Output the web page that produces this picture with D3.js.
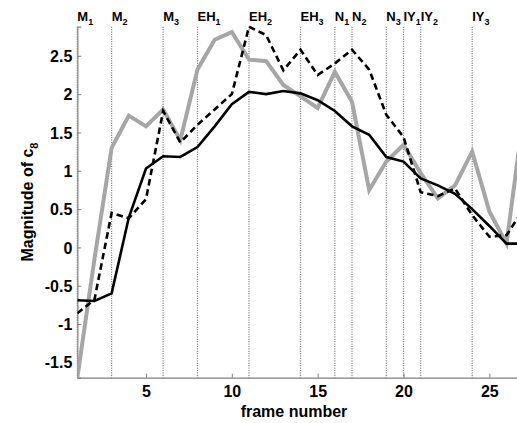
<!DOCTYPE html>
<html><head><meta charset="utf-8">
<script src="https://cdn.jsdelivr.net/npm/d3@7"></script>
<style>
body{margin:0;background:#fff;}
text{font-family:"Liberation Sans",Arial,sans-serif;font-weight:bold;}
</style></head>
<body><svg id="c" width="517" height="423"></svg>
<script>
const frames = d3.range(1, 28);
const grayVals = [-1.70, -0.15, 1.30, 1.72, 1.58, 1.80, 1.40, 2.32, 2.71, 2.81, 2.45, 2.43, 2.12, 1.97, 1.82, 2.29, 1.90, 0.75, 1.12, 1.34, 0.97, 0.64, 0.81, 1.25, 0.47, 0.05, 1.75];
const dashedVals = [-0.86, -0.68, 0.45, 0.38, 0.63, 1.78, 1.37, 1.60, 1.80, 2.00, 2.88, 2.77, 2.31, 2.58, 2.25, 2.40, 2.58, 2.32, 1.73, 1.44, 0.72, 0.67, 0.77, 0.42, 0.14, 0.16, 0.50];
const blackVals = [-0.69, -0.70, -0.60, 0.39, 1.03, 1.19, 1.18, 1.31, 1.58, 1.87, 2.03, 2.00, 2.04, 2.01, 1.92, 1.78, 1.58, 1.47, 1.18, 1.12, 0.90, 0.81, 0.70, 0.50, 0.28, 0.05, 0.05];
const markerNames = ["M", "M", "M", "EH", "EH", "EH", "N", "N", "N", "IY", "IY", "IY"];
const markerSubs = ["1", "2", "3", "1", "2", "3", "1", "2", "3", "1", "2", "3"];
const markerFrames = [1, 3, 6, 8, 11, 14, 16, 17, 19, 20, 21, 24];
const xTicks = [5, 10, 15, 20, 25];
const yTicks = [-1.5, -1, -0.5, 0, 0.5, 1, 1.5, 2, 2.5];

const svg = d3.select("#c");
const x = d3.scaleLinear().domain([1, 27]).range([77.3, 523.7]);
const y = d3.scaleLinear().domain([-1.7, 2.88]).range([377.7, 26.7]);

svg.append("clipPath").attr("id", "clip").append("rect")
  .attr("x", 77.3).attr("y", 0).attr("width", 517 - 77.3).attr("height", 378);

// vertical dotted marker lines
svg.append("g").selectAll("line").data(markerFrames).join("line")
  .attr("x1", d => x(d)).attr("x2", d => x(d))
  .attr("y1", y(2.88)).attr("y2", y(-1.7))
  .attr("stroke", "#8c8c8c").attr("stroke-width", 1.2)
  .attr("stroke-dasharray", "1.2,1.2");

// top labels
const lab = svg.append("g").selectAll("text").data(markerFrames).join("text")
  .attr("x", d => x(d)).attr("y", 20.5)
  .attr("font-size", 13).attr("fill", "#000");
lab.append("tspan").text((d, i) => markerNames[i]);
lab.append("tspan").attr("dy", 4.5).attr("font-size", 9).text((d, i) => markerSubs[i]);

// axes
const xAxis = svg.append("g").attr("transform", `translate(0,${y(-1.7)})`)
  .call(d3.axisBottom(x).tickValues(xTicks).tickSize(-4).tickPadding(8).tickFormat(d => String(d)));
const yAxis = svg.append("g").attr("transform", `translate(${x(1)},0)`)
  .call(d3.axisLeft(y).tickValues(yTicks).tickSize(-4).tickPadding(5).tickFormat(d => String(d)));
[xAxis, yAxis].forEach(a => {
  a.select(".domain").attr("stroke", "#808080").attr("stroke-width", 1.2);
  a.selectAll(".tick line").attr("stroke", "#808080");
  a.selectAll("text").attr("font-size", 16).attr("fill", "#000")
    .style("font-family", '"Liberation Sans",Arial,sans-serif').style("font-weight", "bold");
});
yAxis.selectAll("text").attr("dy", "0.35em");

const line = vals => d3.line().x((d, i) => x(frames[i])).y(d => y(d))(vals);
const g = svg.append("g").attr("clip-path", "url(#clip)");
g.append("path").attr("d", line(grayVals)).attr("fill", "none")
  .attr("stroke", "#a6a6a6").attr("stroke-width", 4).attr("stroke-linejoin", "miter");
g.append("path").attr("d", line(blackVals)).attr("fill", "none")
  .attr("stroke", "#000").attr("stroke-width", 2.6);
g.append("path").attr("d", line(dashedVals)).attr("fill", "none")
  .attr("stroke", "#000").attr("stroke-width", 2.6).attr("stroke-dasharray", "6.5,4");

// axis titles
svg.append("text").attr("x", 294).attr("y", 416.5).attr("text-anchor", "middle")
  .attr("font-size", 16).text("frame number");
const yl = svg.append("text").attr("transform", "translate(33,202) rotate(-90)")
  .attr("text-anchor", "middle").attr("font-size", 16);
yl.append("tspan").text("Magnitude of c");
yl.append("tspan").attr("dy", 5).attr("font-size", 11).text("8");
</script></body></html>
